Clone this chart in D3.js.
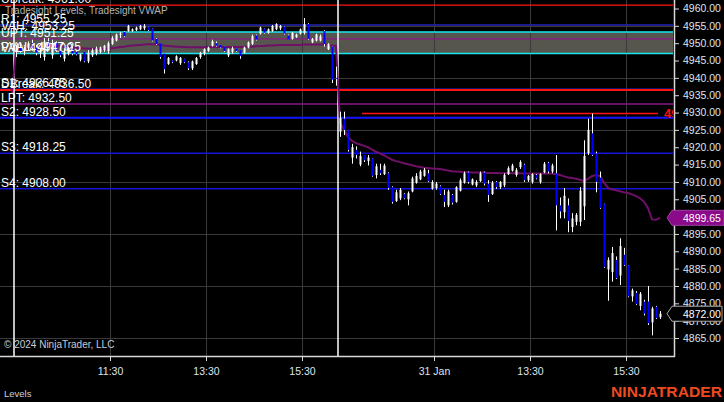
<!DOCTYPE html>
<html><head><meta charset="utf-8">
<script src="https://cdn.jsdelivr.net/npm/d3@7"></script>
<style>html,body{margin:0;padding:0;background:#000;}svg{display:block}</style>
</head><body>
<svg id="c" width="724" height="402"></svg>
<script>
// ---------- DATA ----------
// Day 1 (30 Jan) 5-min bars: [open, high, low, close]
const day1Bars = [
[4947.5,4949.5,4946.0,4948.75],[4948.75,4950.0,4947.25,4947.75],[4947.75,4949.0,4946.5,4948.5],[4948.5,4950.5,4948.0,4950.0],
[4950.0,4951.0,4948.25,4948.75],[4948.75,4949.5,4946.5,4947.25],[4947.25,4948.5,4945.75,4948.0],[4946.0,4951.5,4945.0,4950.5],
[4950.5,4951.5,4948.5,4949.0],[4946.5,4951.0,4945.5,4950.0],[4950.0,4950.5,4947.5,4948.0],[4948.0,4949.0,4946.0,4946.5],
[4945.5,4948.5,4944.75,4947.5],[4947.0,4949.0,4946.5,4948.5],[4948.5,4949.0,4946.5,4947.0],[4947.5,4948.0,4946.5,4946.75],
[4945.25,4947.0,4944.75,4946.75],[4947.5,4947.5,4944.5,4944.75],[4944.75,4948.0,4944.25,4947.25],[4946.5,4948.5,4946.0,4948.0],
[4947.0,4949.0,4946.5,4948.5],[4947.5,4949.0,4947.0,4948.75],[4948.0,4949.5,4947.5,4949.25],[4947.75,4950.5,4947.0,4950.0],
[4949.75,4952.0,4949.5,4951.5],[4950.75,4952.75,4950.5,4952.5],[4952.5,4953.25,4951.5,4952.75],[4953.25,4953.5,4951.75,4952.0],
[4953.5,4955.25,4953.25,4955.0],[4953.5,4954.25,4953.25,4954.0],[4953.75,4954.75,4953.5,4954.5],[4954.0,4955.25,4953.75,4955.0],
[4954.25,4955.5,4953.75,4955.0],[4954.75,4954.75,4953.5,4953.75],[4954.25,4954.25,4950.5,4950.75],[4951.25,4951.5,4949.5,4949.75],
[4950.0,4950.0,4945.5,4946.0],[4947.0,4947.0,4941.25,4942.5],[4944.0,4946.0,4943.75,4945.75],[4945.0,4945.0,4944.25,4944.5],
[4945.0,4946.5,4944.75,4946.25],[4944.25,4946.0,4943.75,4945.75],[4945.5,4945.5,4944.25,4944.5],[4944.5,4944.75,4942.25,4942.75],
[4942.75,4945.0,4942.25,4944.75],[4944.0,4946.0,4943.75,4945.75],[4946.0,4947.5,4945.5,4947.25],[4947.0,4948.5,4946.5,4948.25],
[4947.75,4949.0,4947.5,4948.75],[4949.25,4951.0,4949.0,4950.5],[4950.0,4950.5,4949.0,4949.25],[4949.5,4949.5,4948.5,4948.75],
[4949.0,4949.0,4947.5,4947.75],[4946.5,4948.5,4946.0,4948.25],[4947.5,4949.0,4947.0,4948.5],[4948.5,4948.5,4947.5,4947.75],
[4948.0,4948.0,4945.5,4946.25],[4947.25,4949.0,4947.0,4948.75],[4948.75,4950.5,4948.5,4950.25],[4949.75,4952.5,4949.5,4952.0],
[4952.25,4952.5,4950.75,4951.0],[4952.75,4954.75,4952.5,4954.5],[4954.25,4954.25,4952.75,4953.0],[4953.0,4954.25,4952.75,4954.0],
[4953.5,4955.25,4953.25,4955.0],[4954.0,4955.75,4953.75,4955.5],[4954.25,4955.25,4953.75,4955.0],[4954.75,4954.75,4952.5,4952.75],
[4952.25,4952.5,4951.0,4951.0],[4951.25,4953.25,4951.0,4953.0],[4951.75,4952.75,4951.5,4952.5],[4952.75,4954.25,4952.5,4954.0],
[4953.0,4957.25,4952.5,4955.5],[4955.5,4955.75,4951.0,4951.25],[4950.25,4951.5,4950.0,4951.25],[4950.75,4952.75,4950.5,4952.5],
[4950.75,4952.5,4950.5,4952.0],[4953.5,4953.75,4949.0,4949.75],[4948.25,4950.0,4948.0,4949.75],[4949.0,4949.0,4938.5,4939.5],
[4940.0,4943.25,4937.75,4939.75]
];
// Day 2 (31 Jan) 5-min bars: [open, high, low, close]
const day2Bars = [
[4924.5,4930.25,4923.0,4928.5],[4928.25,4930.25,4923.5,4925.0],[4925.0,4925.0,4918.75,4919.25],[4917.0,4921.0,4915.25,4920.0],
[4919.25,4920.25,4916.75,4917.75],[4915.0,4918.75,4914.5,4917.5],[4917.75,4917.75,4915.75,4916.25],[4916.0,4917.75,4914.75,4917.0],
[4916.75,4916.75,4911.5,4911.75],[4912.0,4915.25,4911.0,4914.5],[4913.5,4915.25,4912.0,4912.5],[4912.25,4915.25,4912.0,4914.75],
[4912.5,4912.75,4907.75,4908.25],[4908.5,4908.75,4903.75,4904.25],[4904.5,4907.75,4904.25,4907.0],[4905.25,4908.25,4904.75,4907.75],
[4906.5,4906.75,4905.0,4905.25],[4905.0,4907.25,4903.25,4906.75],[4907.25,4911.5,4907.0,4911.0],[4909.75,4912.5,4909.5,4911.75],
[4910.75,4913.5,4910.5,4913.0],[4911.75,4914.0,4911.5,4913.5],[4912.5,4913.5,4910.0,4910.25],[4908.0,4910.5,4907.75,4910.0],
[4908.25,4910.0,4907.75,4909.5],[4908.75,4909.0,4906.25,4906.5],[4906.25,4907.75,4902.75,4904.25],[4903.25,4907.75,4902.75,4907.25],
[4906.25,4906.5,4903.5,4904.0],[4904.25,4908.75,4904.0,4908.5],[4907.5,4911.0,4907.25,4910.5],[4909.75,4913.0,4909.5,4912.5],
[4912.75,4913.0,4909.5,4910.0],[4909.25,4911.0,4909.0,4910.75],[4909.0,4910.5,4908.5,4910.0],[4910.25,4913.0,4910.0,4912.5],
[4912.75,4913.0,4909.0,4909.5],[4909.5,4910.5,4904.25,4906.25],[4906.5,4910.25,4906.25,4909.75],[4910.0,4910.25,4908.0,4908.5],
[4908.5,4910.25,4908.0,4910.0],[4909.0,4912.5,4908.5,4912.0],[4912.25,4914.5,4912.0,4914.0],[4913.25,4915.25,4913.0,4914.75],
[4912.0,4914.0,4911.5,4913.5],[4914.25,4916.25,4913.75,4915.75],[4915.0,4915.25,4910.0,4910.5],[4910.5,4912.0,4910.0,4911.75],
[4910.0,4912.5,4909.5,4912.25],[4912.0,4912.25,4910.75,4911.0],[4910.0,4912.5,4909.5,4912.25],[4912.75,4915.75,4912.5,4915.25],
[4915.5,4915.75,4912.5,4913.0],[4913.0,4915.25,4912.5,4914.75],[4912.5,4917.75,4896.0,4903.25],[4903.25,4905.5,4899.5,4901.5],
[4901.25,4908.25,4899.5,4906.0],[4903.25,4905.25,4895.5,4898.75],[4897.0,4901.0,4895.5,4899.5],[4898.5,4901.0,4897.5,4900.5],
[4898.5,4908.5,4897.25,4907.5],[4903.0,4922.0,4899.0,4917.5],[4918.25,4928.25,4917.75,4925.0],[4924.0,4929.75,4917.5,4917.75],
[4918.25,4918.75,4907.0,4910.0],[4911.25,4913.0,4902.25,4902.5],[4903.75,4903.75,4885.25,4885.5],[4884.75,4888.25,4875.75,4887.5],
[4884.0,4891.25,4881.25,4889.5],[4887.5,4888.5,4882.0,4882.25],[4883.0,4893.75,4880.25,4891.5],[4889.0,4891.0,4885.75,4886.0],
[4886.0,4886.0,4876.75,4877.0],[4877.0,4879.25,4875.5,4878.75],[4878.0,4878.5,4874.5,4874.75],[4874.25,4878.25,4873.0,4877.75],
[4875.5,4876.0,4871.5,4872.0],[4875.5,4880.0,4868.75,4869.25],[4869.5,4874.0,4865.75,4873.5],[4874.0,4874.25,4870.5,4870.75],
[4871.0,4872.75,4870.5,4872.0]
];
const priorVwap = 4935.5;
const vwapDay1 = [4948.0,4948.2,4948.3,4948.6,4948.9,4948.8,4948.7,4948.9,4949.1,4949.2,4949.3,4949.2,
4949.0,4948.9,4948.8,4948.7,4948.6,4948.5,4948.5,4948.4,4948.4,4948.4,4948.4,4948.5,
4948.6,4948.7,4948.9,4949.0,4949.2,4949.3,4949.4,4949.5,4949.6,4949.7,4949.7,4949.6,
4949.5,4949.3,4949.2,4949.1,4949.0,4949.0,4948.9,4948.8,4948.8,4948.8,4948.8,4948.8,
4948.9,4948.9,4948.9,4948.9,4948.9,4948.9,4948.9,4948.9,4948.9,4948.9,4949.0,4949.0,
4949.1,4949.2,4949.2,4949.3,4949.3,4949.4,4949.5,4949.5,4949.5,4949.5,4949.5,4949.5,
4949.6,4949.6,4949.6,4949.6,4949.6,4949.6,4949.5,4949.3,4949.2];
const vwapDay2 = [4927.2,4925.0,4923.0,4921.8,4921.2,4920.8,4920.4,4920.0,4919.3,4918.7,4918.2,4917.7,
4917.0,4916.4,4916.0,4915.7,4915.4,4915.1,4914.8,4914.5,4914.3,4914.1,4914.0,4913.9,
4913.8,4913.7,4913.5,4913.3,4913.1,4913.0,4912.9,4912.8,4912.8,4912.7,4912.7,4912.7,
4912.7,4912.6,4912.6,4912.6,4912.5,4912.5,4912.5,4912.5,4912.5,4912.5,4912.4,4912.4,
4912.4,4912.4,4912.4,4912.4,4912.4,4912.4,4912.2,4912.0,4911.6,4911.3,4911.1,4910.9,
4910.6,4910.3,4910.9,4911.7,4911.9,4911.7,4909.8,4908.3,4907.8,4907.6,4907.3,4907.0,
4906.8,4906.4,4905.9,4905.3,4904.3,4902.4,4899.2,4899.1,4899.65];
// Tradesight levels
const levelNames  = ["UBreak","R1","VAH","UPT","PVAL","VAL","S1","DBreak","LPT","S2","S3","S4"];
const levelValues = [4961.00,4955.25,4953.25,4951.25,4947.25,4947.00,4936.75,4936.50,4932.50,4928.50,4918.25,4908.00];
const valueAreaBand = [4953.25, 4947.00];
const highMarker = {price: 4929.75, fromIdx: 86.5, toIdx: 160.5};
const priceTicks = d3.range(4865, 4961, 5);
const gridPrices = [4865,4880,4895,4910,4925,4940,4955];
const timeTickIdx = [23.5,47.5,71.5,104.5,128.5,152.5];
const timeTickLabels = ["11:30","13:30","15:30","31 Jan","13:30","15:30"];
const sessionBreaks = [-0.5, 80.5];

// ---------- STYLE ----------
const levelStyle = {
  UBreak:{c:"#ff1414",w:1.2}, R1:{c:"#2424b8",w:1.3}, VAH:{c:"#18e6f0",w:1.5}, UPT:{c:"#8a1888",w:1.3},
  PVAL:{c:"none",w:0}, VAL:{c:"#18e6f0",w:1.5}, S1:{c:"#2020d0",w:1.5}, DBreak:{c:"#ff1414",w:2},
  LPT:{c:"#8a1888",w:1.5}, S2:{c:"#1414ff",w:2}, S3:{c:"#1414d8",w:1.5}, S4:{c:"#1414d8",w:1.5}
};
const FONT = "Arial, 'Liberation Sans', sans-serif";
const plotR = 674, plotB = 356;

const svg = d3.select("#c");
svg.append("rect").attr("width",724).attr("height",402).attr("fill","#000");
svg.append("defs").append("clipPath").attr("id","plot")
  .append("rect").attr("x",0).attr("y",0).attr("width",plotR-1).attr("height",plotB);

const y = d3.scaleLinear().domain([4865,4960]).range([338,8.5]);
const x = d3.scaleLinear().domain([-0.5,80.5]).range([14,338]);

const g = svg.append("g").attr("clip-path","url(#plot)");

// band
g.append("rect").attr("x",0).attr("width",plotR)
  .attr("y",y(valueAreaBand[0])).attr("height",y(valueAreaBand[1])-y(valueAreaBand[0]))
  .attr("fill","#56564e");

// gridlines
g.selectAll(".gh").data(gridPrices).join("line")
  .attr("x1",0).attr("x2",plotR).attr("y1",d=>Math.round(y(d))+0.5).attr("y2",d=>Math.round(y(d))+0.5)
  .attr("stroke","#3a3a3a").attr("stroke-width",1);
g.selectAll(".gv").data(timeTickIdx).join("line")
  .attr("x1",d=>Math.round(x(d))+0.5).attr("x2",d=>Math.round(x(d))+0.5).attr("y1",0).attr("y2",plotB)
  .attr("stroke","#3a3a3a").attr("stroke-width",1);

// level lines
levelNames.forEach((n,i)=>{
  const s = levelStyle[n]; if(s.c==="none") return;
  g.append("line").attr("x1",0).attr("x2",plotR)
   .attr("y1",y(levelValues[i])).attr("y2",y(levelValues[i]))
   .attr("stroke",s.c).attr("stroke-width",s.w);
});

// high marker line
g.append("line").attr("x1",x(highMarker.fromIdx)).attr("x2",x(highMarker.toIdx))
  .attr("y1",y(highMarker.price)).attr("y2",y(highMarker.price))
  .attr("stroke","#ff1010").attr("stroke-width",1.5);
g.append("text").attr("x",x(highMarker.toIdx)+6).attr("y",y(highMarker.price)+5)
  .attr("font-family",FONT).attr("font-size",13).attr("font-weight","bold").attr("fill","#ff1010")
  .text(highMarker.price.toFixed(2));

// session break lines
g.selectAll(".sb").data(sessionBreaks).join("line")
  .attr("x1",d=>x(d)).attr("x2",d=>x(d)).attr("y1",0).attr("y2",plotB)
  .attr("stroke","#ffffff").attr("stroke-width",1.5);

// VWAP
const vwapPts = [[-1,priorVwap]]
  .concat(vwapDay1.map((v,i)=>[i,v]))
  .concat(vwapDay2.map((v,i)=>[81+i,v]));
g.append("path").datum(vwapPts)
  .attr("d", d3.line().x(d=>x(d[0])).y(d=>y(d[1])))
  .attr("fill","none").attr("stroke","#6e0f68").attr("stroke-width",2);

// candles
const bars = day1Bars.map((b,i)=>({i, o:b[0],h:b[1],l:b[2],c:b[3]}))
  .concat(day2Bars.map((b,i)=>({i:81+i, o:b[0],h:b[1],l:b[2],c:b[3]})));
const cg = g.append("g");
cg.selectAll(".w").data(bars).join("line")
  .attr("x1",d=>Math.round(x(d.i))+0.5).attr("x2",d=>Math.round(x(d.i))+0.5)
  .attr("y1",d=>y(d.h)).attr("y2",d=>y(d.l))
  .attr("stroke","#ffffff").attr("stroke-width",1);
cg.selectAll(".b").data(bars).join("rect")
  .attr("x",d=>Math.round(x(d.i))-0.5).attr("width",2)
  .attr("y",d=>y(Math.max(d.o,d.c)))
  .attr("height",d=>Math.max(1,Math.abs(y(d.o)-y(d.c))))
  .attr("fill",d=>d.c>=d.o?"#ffffff":"#0000ff");

// level labels
const lab = svg.append("g").attr("font-family",FONT).attr("font-size",12).attr("fill","#ffffff");
levelNames.forEach((n,i)=>{
  lab.append("text").attr("x",1).attr("y",y(levelValues[i])-2)
    .text(n+": "+levelValues[i].toFixed(2));
});

// header
svg.append("text").attr("x",5).attr("y",14).attr("font-family",FONT).attr("font-size",10)
  .attr("fill","#b4b4b4").text("Tradesight Levels, Tradesight VWAP");
svg.append("text").attr("x",4).attr("y",348).attr("font-family",FONT).attr("font-size",10)
  .attr("fill","#c8ccd8").text("© 2024 NinjaTrader, LLC");
svg.append("text").attr("x",4).attr("y",397).attr("font-family",FONT).attr("font-size",9.5)
  .attr("fill","#d0d0d0").text("Levels");

// axes
const yAxis = svg.append("g").attr("transform",`translate(${plotR},0)`)
  .call(d3.axisRight(y).tickValues(priceTicks).tickFormat(d3.format(".2f")).tickSize(5).tickPadding(4));
yAxis.select(".domain").remove();
yAxis.selectAll("line").attr("stroke","#d8d8d8");
yAxis.selectAll("text").attr("font-family",FONT).attr("font-size",10.5).attr("fill","#dfe5ef");
svg.append("line").attr("x1",plotR+0.5).attr("x2",plotR+0.5).attr("y1",0).attr("y2",plotB+1)
  .attr("stroke","#d8d8d8").attr("stroke-width",1.5);

const xAxis = svg.append("g").attr("transform",`translate(0,${plotB})`)
  .call(d3.axisBottom(x).tickValues(timeTickIdx).tickFormat((d,i)=>timeTickLabels[i]).tickSize(5).tickPadding(7));
xAxis.select(".domain").remove();
xAxis.selectAll("line").attr("stroke","#d8d8d8");
xAxis.selectAll("text").attr("font-family",FONT).attr("font-size",10.5).attr("fill","#dfe5ef");
svg.append("line").attr("x1",0).attr("x2",plotR+1).attr("y1",plotB+0.5).attr("y2",plotB+0.5)
  .attr("stroke","#d8d8d8").attr("stroke-width",1.5);

// price tags
function tag(val, fill, stroke, right){
  const yv = y(val);
  const p = [[667,yv],[672,yv-7.5],[right,yv-7.5],[right,yv+7.5],[672,yv+7.5]];
  svg.append("path").attr("d","M"+p.map(q=>q.join(",")).join("L")+"Z")
    .attr("fill",fill).attr("stroke",stroke).attr("stroke-width",1);
  svg.append("text").attr("x",683).attr("y",yv+4).attr("font-family",FONT).attr("font-size",10.5)
    .attr("fill","#ffffff").text(val.toFixed(2));
}
tag(vwapDay2[vwapDay2.length-1], "#8a0a8a", "#a040a0", 724);
tag(day2Bars[day2Bars.length-1][3], "#000000", "#a8a8a8", 722);

// logo
svg.append("text").attr("x",611).attr("y",397).attr("font-family",FONT).attr("font-size",15)
  .attr("font-weight","bold").attr("fill","#ee4a20").attr("textLength",111)
  .attr("lengthAdjust","spacingAndGlyphs").text("NINJATRADER");
</script>
</body></html>
